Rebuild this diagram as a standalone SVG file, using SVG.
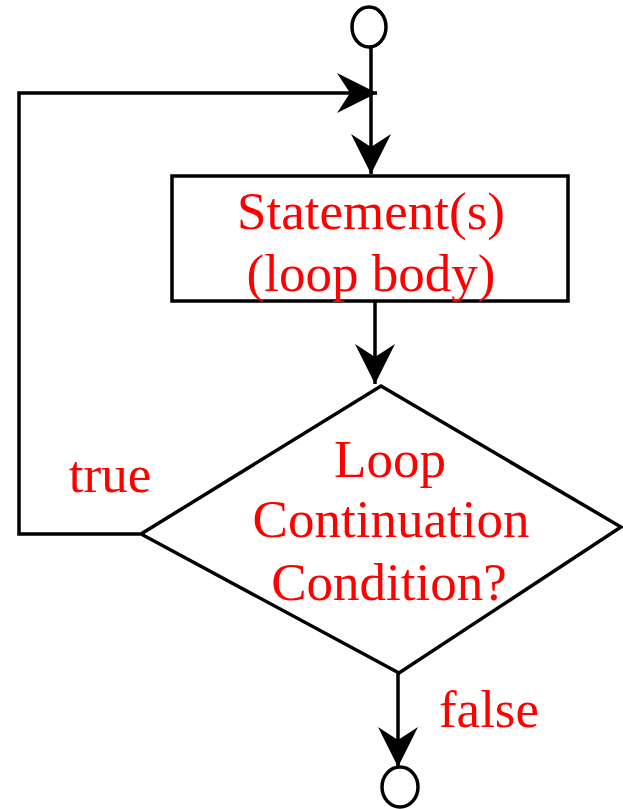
<svg xmlns="http://www.w3.org/2000/svg" width="623" height="809" viewBox="0 0 623 809">
<style>
.shape{fill:#fff;stroke:#000;stroke-width:3.5}
.conn{fill:none;stroke:#000;stroke-width:3.5}
.lbl{font-family:"Liberation Serif","Times New Roman",serif;font-size:53px;fill:#ff0000;text-anchor:middle}
</style>
<defs>
<marker id="arr" viewBox="-42 -22 44 44" markerWidth="44" markerHeight="44" refX="0" refY="0" orient="auto" markerUnits="userSpaceOnUse">
<path d="M0,0 L-40,-20 L-27,0 L-40,20 Z" fill="#000"/>
</marker>
</defs>
<rect width="623" height="809" fill="#fff"/>
<g id="connectors">
<path class="conn" d="M371,47 L371,174" marker-end="url(#arr)"/>
<path class="conn" d="M140,534 L19,534 L19,93 L377,93" marker-end="url(#arr)"/>
<path class="conn" d="M375,301 L375,384" marker-end="url(#arr)"/>
<path class="conn" d="M398,673 L398,767" marker-end="url(#arr)"/>
</g>
<g id="start">
<ellipse class="shape" cx="369" cy="27" rx="17" ry="20"/>
</g>
<g id="body">
<rect class="shape" x="172" y="176" width="396" height="125"/>
<text class="lbl" x="371" y="229">Statement(s)</text>
<text class="lbl" x="371" y="291">(loop body)</text>
</g>
<g id="condition">
<polygon class="shape" points="381,386 621,527 399,673 141,534"/>
<text class="lbl" x="390" y="477">Loop</text>
<text class="lbl" x="391" y="537">Continuation</text>
<text class="lbl" x="389" y="600">Condition?</text>
</g>
<g id="end">
<ellipse class="shape" cx="400" cy="787" rx="18" ry="20"/>
</g>
<g id="labels">
<text class="lbl" x="110" y="492">true</text>
<text class="lbl" x="489" y="727">false</text>
</g>
</svg>
